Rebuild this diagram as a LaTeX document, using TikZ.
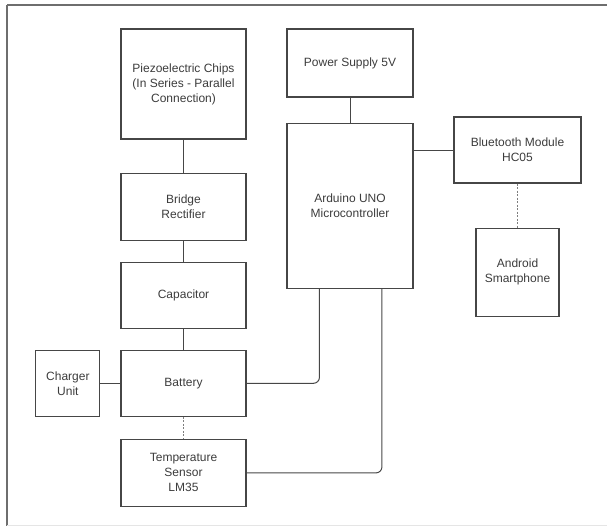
\documentclass[tikz,border=0pt]{standalone}
\usepackage{fontspec}
\setmainfont{Liberation Sans}
\usetikzlibrary{positioning,calc}
\definecolor{edgeG}{RGB}{70,70,70}
\definecolor{textG}{RGB}{60,60,60}
\definecolor{frameG}{RGB}{110,110,110}

\begin{document}
\begin{tikzpicture}[
  x=1pt, y=1pt,
  block/.style={draw=edgeG, line width=1.1pt, align=center, text=textG,
    inner sep=2pt, minimum width=#1, font=\fontsize{12}{15}\selectfont},
  block/.default=125pt,
  wire/.style={draw=edgeG, line width=1pt},
  dashwire/.style={draw=edgeG!70, line width=1pt, dash pattern=on 2pt off 1.5pt},
]
\useasboundingbox (0,0) rectangle (607,-531);

% screenshot frame
\draw[frameG, line width=2pt] (7,-5) -- (607,-5);
\draw[frameG, line width=1.5pt] (7,-5) -- (7,-526);
\draw[black!10, line width=1pt] (7,-525) -- (607,-525);

% energy harvesting chain
\node[block, minimum height=110pt] (piezo) at (183.5,-84)
  {Piezoelectric Chips\\(In Series - Parallel\\Connection)};
\node[block, minimum height=67pt, below=33pt of piezo] (bridge) {Bridge\\Rectifier};
\node[block, minimum height=66pt, below=21pt of bridge] (cap) {Capacitor};
\node[block, minimum height=66pt, below=21pt of cap] (battery) {Battery};
\node[block, minimum height=67pt, below=22pt of battery] (temp) {Temperature\\Sensor\\LM35};
\node[block=64pt, minimum height=66pt, left=20pt of battery] (charger) {Charger\\Unit};

% controller side
\node[block=126pt, minimum height=68pt] (power) at (350,-63) {Power Supply 5V};
\node[block=126pt, minimum height=165pt, below=25pt of power] (arduino) {Arduino UNO\\Microcontroller};
\node[block=127pt, minimum height=66pt] (bt) at (517.5,-150) {Bluetooth Module\\HC05};
\node[block=83pt, minimum height=88pt, below=44pt of bt] (phone) {Android\\Smartphone};

\coordinate (battIn) at ([xshift=33pt]arduino.south west);
\coordinate (tempIn) at ([xshift=95.5pt]arduino.south west);

\draw[wire] (piezo) -- (bridge);
\draw[wire] (bridge) -- (cap);
\draw[wire] (cap) -- (battery);
\draw[dashwire] (battery) -- (temp);
\draw[wire] (charger) -- (battery);
\draw[wire] (power) -- (arduino);
\draw[wire] (bt.west) -- (bt.west -| arduino.east);
\draw[dashwire] (bt) -- (phone);
\draw[wire, rounded corners=6pt] (battery.east) -| (battIn);
\draw[wire, rounded corners=6pt] (temp.east) -| (tempIn);

\end{tikzpicture}
\end{document}
